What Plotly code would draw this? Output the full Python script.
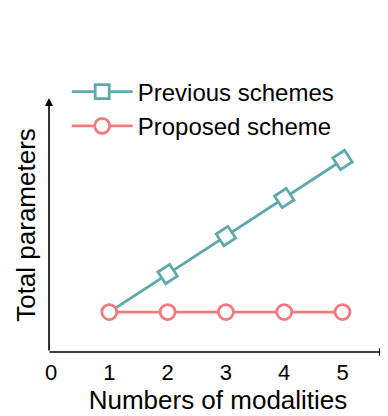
import plotly.graph_objects as go

modalities = [1, 2, 3, 4, 5]
previous_params = [1.0, 2.0, 3.0, 4.0, 5.0]
proposed_params = [1.0, 1.0, 1.0, 1.0, 1.0]
x_tick_vals = [0, 1, 2, 3, 4, 5]
x_tick_text = ["0", "1", "2", "3", "4", "5"]

teal = "#5FA8AC"
coral = "#F07A7D"
font = "Liberation Sans, Arial, Helvetica, sans-serif"

fig = go.Figure()
fig.add_trace(go.Scatter(
    x=modalities, y=previous_params, mode="lines+markers", name="Previous schemes",
    line=dict(color=teal, width=2.8),
    marker=dict(symbol="square", size=14, color="white", angleref="previous",
                line=dict(color=teal, width=2.8)),
))
fig.add_trace(go.Scatter(
    x=modalities, y=proposed_params, mode="lines+markers", name="Proposed scheme",
    line=dict(color=coral, width=2.8),
    marker=dict(symbol="circle", size=15, color="white",
                line=dict(color=coral, width=2.8)),
))

# page body has an 8px margin, so the figure is 380x408 with plot area
# at page x 48..388, y 98..352
fig.update_layout(
    width=380, height=408,
    margin=dict(l=40, r=0, t=90, b=64, autoexpand=False),
    paper_bgcolor="white", plot_bgcolor="white",
    font=dict(family=font, size=23, color="black"),
    showlegend=True,
    legend=dict(x=0.055, y=1.112, xanchor="left", yanchor="top",
                bgcolor="rgba(0,0,0,0)", font=dict(size=24, family=font),
                itemwidth=61, tracegroupgap=0),
    xaxis=dict(range=[-0.0515, 5.78], showgrid=False, zeroline=False, showline=False,
               automargin=False,
               tickvals=x_tick_vals, ticktext=x_tick_text, ticks="",
               tickfont=dict(size=22), ticklabelstandoff=5,
               title=dict(text="Numbers of modalities", font=dict(size=26), standoff=4)),
    yaxis=dict(range=[-0.05, 6.63], showgrid=False, zeroline=False, showline=False,
               automargin=False,
               showticklabels=False, ticks="",
               title=dict(text="Total parameters", font=dict(size=26), standoff=3)),
)

# axis arrows
fig.add_annotation(x=1, y=0, xref="paper", yref="paper", ax=-340, ay=0,
                   showarrow=True, arrowhead=2, arrowsize=1, arrowwidth=1.6,
                   arrowcolor="black", text="")
fig.add_annotation(x=0.003, y=1, xref="paper", yref="paper", ax=0, ay=254,
                   showarrow=True, arrowhead=2, arrowsize=1, arrowwidth=1.6,
                   arrowcolor="black", text="")

fig.write_html("out.html")
